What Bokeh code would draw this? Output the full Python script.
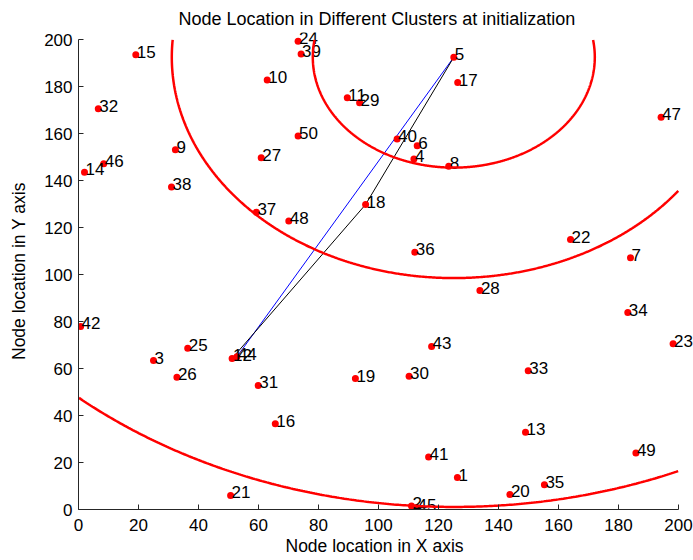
import numpy as np
from bokeh.plotting import figure
from bokeh.models import Range1d, ColumnDataSource, Title
from bokeh.core.properties import value
from bokeh.embed import file_html
from bokeh.resources import INLINE

# ---- data ----
node_ids = list(range(1, 51))
node_x = [126.3, 111.0, 25.0, 111.8, 125.1, 112.9, 184.0, 123.4, 32.3, 62.9,
          89.6, 51.2, 149.0, 2.0, 19.1, 65.6, 126.4, 95.7, 92.3, 143.8,
          50.7, 164.0, 198.2, 73.2, 36.4, 32.8, 60.9, 133.8, 93.7, 110.2,
          59.9, 6.6, 149.9, 183.1, 155.3, 112.1, 59.3, 31.0, 74.2, 106.2,
          116.7, 0.7, 117.7, 52.8, 112.7, 8.4, 194.2, 70.1, 185.8, 73.2]
node_y = [13.6, 1.5, 63.4, 149.2, 192.5, 154.8, 107.1, 146.1, 153.1, 182.8,
          175.2, 64.3, 32.9, 143.5, 193.5, 36.5, 181.7, 129.8, 55.7, 6.4,
          6.0, 114.9, 70.5, 199.3, 68.6, 56.3, 149.7, 93.2, 173.1, 56.7,
          52.8, 170.5, 59.1, 83.8, 10.5, 109.5, 126.5, 137.2, 193.9, 157.7,
          22.3, 77.9, 69.4, 65.0, 0.8, 147.1, 166.9, 122.8, 24.0, 158.9]
head_id = 5
ring_radii = [47.0, 94.0, 191.4]
blue_path = [5, 44]
black_path = [5, 18, 12]
x_ticks = list(range(0, 201, 20))
y_ticks = list(range(0, 201, 20))
axis_lim = (0, 200)
title_text = "Node Location in Different Clusters at initialization"
x_label = "Node location in X axis"
y_label = "Node location in Y axis"

FONT = "Liberation Sans"

# frame slightly larger than the axes so labels near the edge are not cut
p = figure(width=693, height=560,
           x_range=Range1d(0, 205), y_range=Range1d(0, 203),
           output_backend="svg", toolbar_location=None,
           min_border_left=78, min_border_right=0,
           min_border_top=32, min_border_bottom=51)
p.outline_line_color = None
p.xgrid.grid_line_color = None
p.ygrid.grid_line_color = None
p.background_fill_color = "white"
p.border_fill_color = "white"

p.title.text = title_text
p.title.text_font = FONT
p.title.text_font_size = "18px"
p.title.text_font_style = "normal"
p.title.text_color = "black"
p.title.align = "left"
p.title.offset = 100
p.title.standoff = 8

for ax, ticks in ((p.xaxis, x_ticks), (p.yaxis, y_ticks)):
    ax.ticker = ticks
    ax.bounds = axis_lim
    ax.major_label_text_font = FONT
    ax.major_label_text_font_size = "17px"
    ax.minor_tick_line_color = None
    ax.major_tick_in = 5
    ax.major_tick_out = 0
    ax.axis_line_color = "#262626"
    ax.major_tick_line_color = "#262626"
    ax.major_label_text_color = "black"
p.xaxis.major_label_standoff = 9
p.yaxis.major_label_standoff = 6

p.yaxis.axis_label = y_label
p.yaxis.axis_label_text_font = FONT
p.yaxis.axis_label_text_font_size = "17.5px"
p.yaxis.axis_label_text_font_style = "normal"
p.yaxis.axis_label_text_color = "black"
p.yaxis.axis_label_standoff = 12

p.add_layout(Title(text=x_label, align="left", offset=207,
                   text_font=FONT, text_font_size="17.5px",
                   text_font_style="normal", text_color="black",
                   standoff=0), "below")

pos = {i: (x, y) for i, x, y in zip(node_ids, node_x, node_y)}

# paths
p.line([pos[i][0] for i in blue_path], [pos[i][1] for i in blue_path],
       line_color="blue", line_width=1)
p.line([pos[i][0] for i in black_path], [pos[i][1] for i in black_path],
       line_color="black", line_width=1)

src = ColumnDataSource(dict(x=node_x, y=node_y, t=[str(i) for i in node_ids]))
p.scatter("x", "y", source=src, size=7, fill_color="red", line_color=None)
p.text("x", "y", text="t", source=src, text_font=value(FONT),
       text_font_size="17px", text_baseline="middle", text_align="left",
       x_offset=1, y_offset=-3, text_color="black")

# cluster rings around the head node, clipped to the axes box
cx, cy = pos[head_id]
theta = np.linspace(0, 2 * np.pi, 1441)
lo, hi = axis_lim
for r in ring_radii:
    rx = cx + r * np.cos(theta)
    ry = cy + r * np.sin(theta)
    out = (rx < lo) | (rx > hi) | (ry < lo) | (ry > hi)
    rx[out] = np.nan
    ry[out] = np.nan
    p.line(rx, ry, line_color="red", line_width=2.5)

open("out.html", "w").write(file_html(p, INLINE))
